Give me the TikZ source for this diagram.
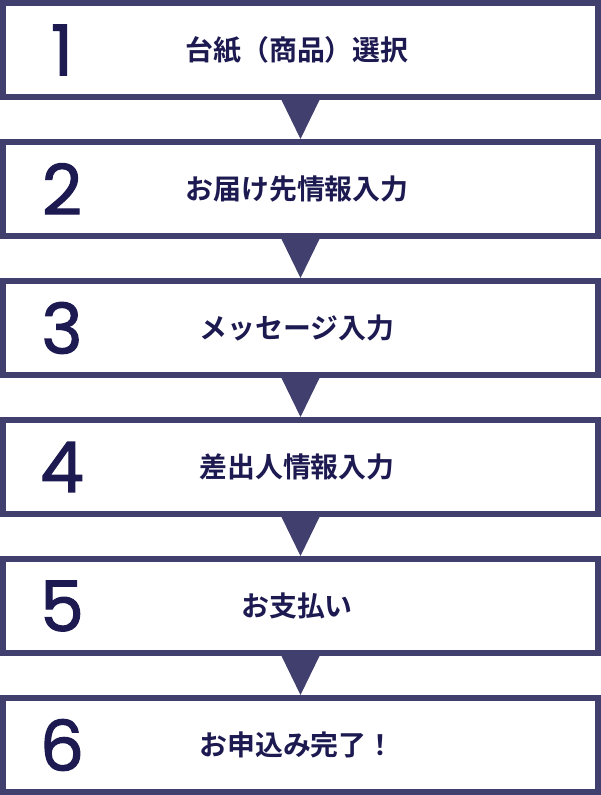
\documentclass[tikz,border=0pt]{standalone}
\usepackage{fontspec}
\usepackage{tikz}
\usetikzlibrary{positioning}
\definecolor{frameNavy}{HTML}{403F6E}
\definecolor{textNavy}{HTML}{1C1A50}
\newfontfamily\jpfont{Noto Sans CJK JP}[BoldFont={Noto Sans CJK JP Bold}]
\newfontfamily\numfont{Poppins}[FakeBold=1.6]

\begin{document}
\begin{tikzpicture}[x=1bp, y=-1bp,
    stepframe/.style={draw=frameNavy, line width=6bp, fill=white, minimum width=595bp, minimum height=94bp, inner sep=0pt},
    stepnum/.style={text=textNavy, font=\numfont\fontsize{70}{70}\selectfont},
    steplabel/.style={text=textNavy, font=\jpfont\bfseries\fontsize{28}{28}\selectfont},
    arrowhead/.style={fill=frameNavy}]
                    \useasboundingbox (0,0) rectangle (601,795);

                    % Frames
                    \node[stepframe] (s1) at (300.5,50) {};
                    \node[stepframe] (s2) at (300.5,189) {};
                    \node[stepframe] (s3) at (300.5,328) {};
                    \node[stepframe] (s4) at (300.5,467) {};
                    \node[stepframe] (s5) at (300.5,606) {};
                    \node[stepframe] (s6) at (300.5,745) {};

                    % Numbers
                    \node[stepnum] (n1) at (62,50) {1};
                    \node[stepnum] (n2) at (62,189) {2};
                    \node[stepnum] (n3) at (62,328) {3};
                    \node[stepnum] (n4) at (62,467) {4};
                    \node[stepnum] (n5) at (62,606) {5};
                    \node[stepnum] (n6) at (62,745) {6};

                    % Labels
                    \node[steplabel] (t1) at (297,50) {台紙（商品）選択};
                    \node[steplabel] (t2) at (297,189) {お届け先情報入力};
                    \node[steplabel] (t3) at (297,328) {メッセージ入力};
                    \node[steplabel] (t4) at (297,467) {差出人情報入力};
                    \node[steplabel] (t5) at (297,606) {お支払い};
                    \node[steplabel] (t6) at (297,745) {お申込み完了！};

                    % Arrows
                    \fill[arrowhead] ([xshift=-19bp]s1.south) -- ([xshift=19bp]s1.south) -- (s2.north) -- cycle;
                    \fill[arrowhead] ([xshift=-19bp]s2.south) -- ([xshift=19bp]s2.south) -- (s3.north) -- cycle;
                    \fill[arrowhead] ([xshift=-19bp]s3.south) -- ([xshift=19bp]s3.south) -- (s4.north) -- cycle;
                    \fill[arrowhead] ([xshift=-19bp]s4.south) -- ([xshift=19bp]s4.south) -- (s5.north) -- cycle;
                    \fill[arrowhead] ([xshift=-19bp]s5.south) -- ([xshift=19bp]s5.south) -- (s6.north) -- cycle;
\end{tikzpicture}
\end{document}
